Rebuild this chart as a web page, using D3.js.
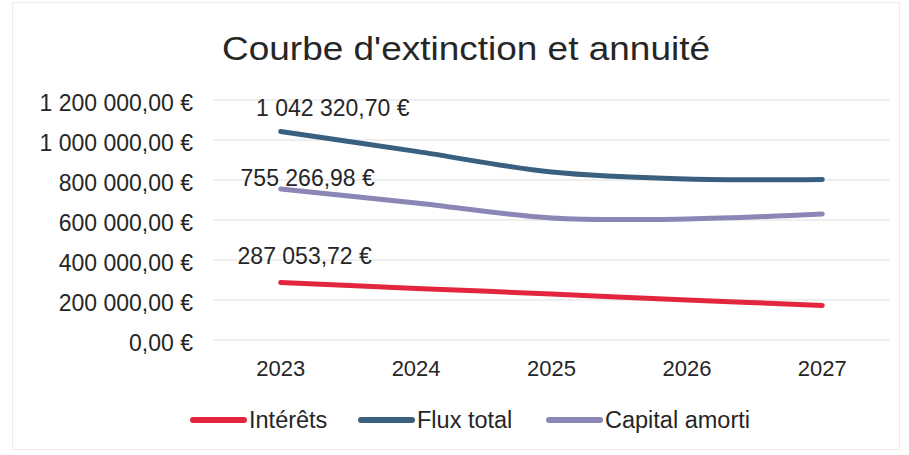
<!DOCTYPE html>
<html>
<head>
<meta charset="utf-8">
<script src="https://cdn.jsdelivr.net/npm/d3@7"></script>
<style>
  body { margin: 0; background: #fff; }
  text { font-family: "Liberation Sans", Arial, sans-serif; fill: #262626; }
</style>
</head>
<body>
<div id="chart"></div>
<script>
const years = ['2023', '2024', '2025', '2026', '2027'];
const interets = [287053.72, 258000, 230000, 200000, 173000];
const capitalAmorti = [755266.98, 685000, 610000, 605000, 630000];
const fluxTotal = [1042320.70, 943000, 840000, 805000, 803000];
const yTicks = [0, 200000, 400000, 600000, 800000, 1000000, 1200000];

const SERIES = [
    { name: 'Intérêts', values: interets, color: '#e3263d' },
    { name: 'Flux total', values: fluxTotal, color: '#3a6080' },
    { name: 'Capital amorti', values: capitalAmorti, color: '#8a86b6' },
];

const W = 909, H = 455;
const margin = { left: 213, right: 19, top: 100, bottom: 115 };
const FONT = '"Liberation Sans", Arial, sans-serif';

const fmt = v => {
    const s = v.toFixed(2).split('.');
    const intPart = s[0].replace(/\B(?=(\d{3})+(?!\d))/g, ' ');
    return `${intPart},${s[1]} €`;
};

const svg = d3.select('#chart').append('svg')
    .attr('width', W)
    .attr('height', H);

// light frame
svg.append('rect')
    .attr('x', 12.5).attr('y', 2.5)
    .attr('width', W - 22).attr('height', H - 8)
    .attr('fill', 'none').attr('stroke', '#ececec');

const x = d3.scaleBand().domain(years).range([margin.left, W - margin.right]);
const y = d3.scaleLinear().domain([0, 1200000]).range([H - margin.bottom, margin.top]);

// title
svg.append('text')
    .attr('x', 222).attr('y', 60)
    .attr('textLength', 488)
    .attr('lengthAdjust', 'spacingAndGlyphs')
    .style('font-size', '33px')
    .text("Courbe d'extinction et annuité");

// gridlines
svg.append('g').selectAll('line').data(yTicks).join('line')
    .attr('x1', margin.left).attr('x2', W - margin.right)
    .attr('y1', d => y(d)).attr('y2', d => y(d))
    .attr('stroke', '#e8e8e8').attr('stroke-width', 1.5);

// y axis labels
const yAxis = svg.append('g')
    .attr('transform', `translate(${margin.left - 20},3)`)
    .call(d3.axisLeft(y).tickValues(yTicks).tickFormat(fmt).tickSize(0).tickPadding(0));
yAxis.select('.domain').remove();
yAxis.selectAll('text').style('font-size', '23px').style('font-family', FONT).attr('fill', '#262626');

// x axis labels
const xAxis = svg.append('g')
    .attr('transform', `translate(0,${H - margin.bottom + 20})`)
    .call(d3.axisBottom(x).tickSize(0).tickPadding(0));
xAxis.select('.domain').remove();
xAxis.selectAll('text').style('font-size', '22px').style('font-family', FONT).attr('fill', '#262626');

// lines
const line = d3.line()
    .x((d, i) => x(years[i]) + x.bandwidth() / 2)
    .y(d => y(d))
    .curve(d3.curveCatmullRom.alpha(0.5));

svg.append('g').selectAll('path').data(SERIES).join('path')
    .attr('d', d => line(d.values))
    .attr('fill', 'none')
    .attr('stroke', d => d.color)
    .attr('stroke-width', 5)
    .attr('stroke-linecap', 'round')
    .attr('stroke-linejoin', 'round');

// data labels (first point only), placed like the original
const labelOffsets = { 'Intérêts': [24, -19], 'Flux total': [52, -16], 'Capital amorti': [27, -3] };
SERIES.forEach(s => {
    const [dx, dy] = labelOffsets[s.name];
    svg.append('text')
        .attr('x', x(years[0]) + x.bandwidth() / 2 + dx)
        .attr('y', y(s.values[0]) + dy)
        .attr('text-anchor', 'middle')
        .style('font-size', '23px')
        .text(fmt(s.values[0]));
});

// legend
const legendX = [190, 358, 546];
const legend = svg.append('g').attr('transform', 'translate(0,420)');
SERIES.forEach((s, i) => {
    const g = legend.append('g').attr('transform', `translate(${legendX[i]},0)`);
    g.append('line')
        .attr('x1', 3).attr('x2', 54).attr('y1', 0).attr('y2', 0)
        .attr('stroke', s.color).attr('stroke-width', 6).attr('stroke-linecap', 'round');
    g.append('text')
        .attr('x', 59).attr('y', 8)
        .style('font-size', '23.5px')
        .text(s.name);
});
</script>
</body>
</html>
